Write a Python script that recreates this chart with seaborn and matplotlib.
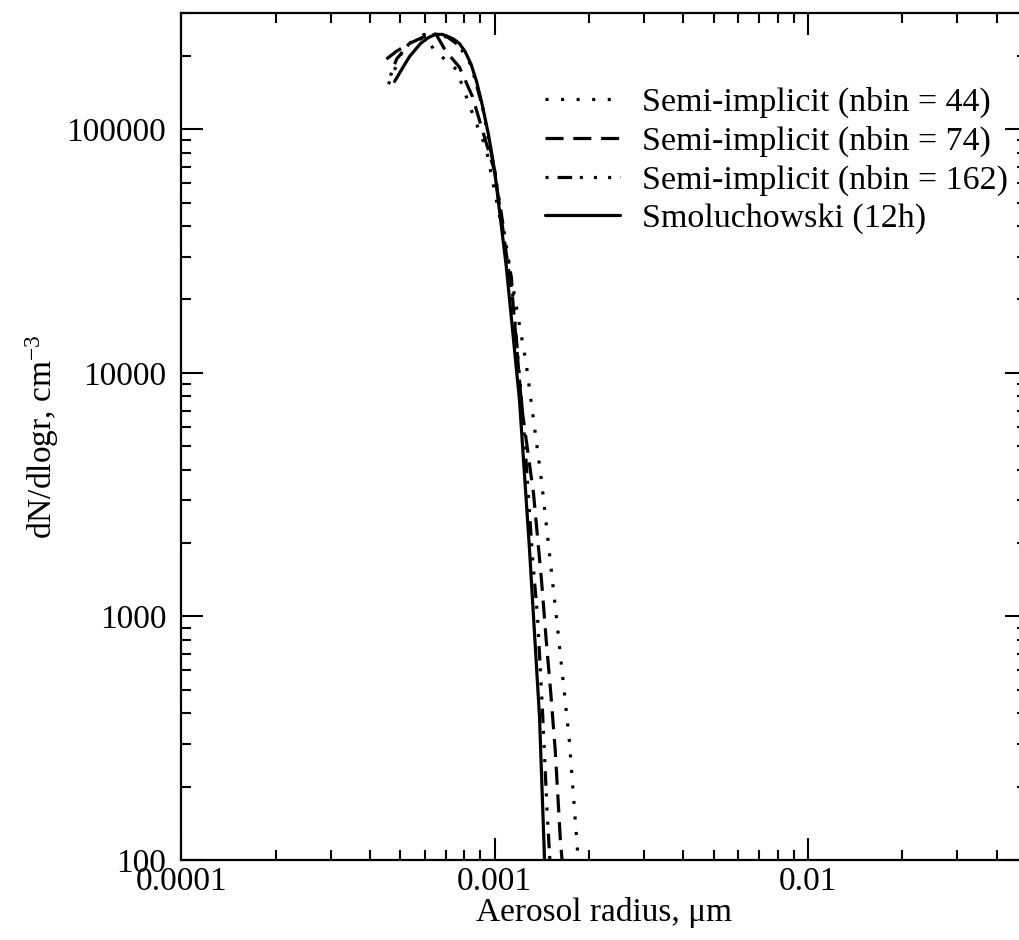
import numpy as np
import pandas as pd
import matplotlib
matplotlib.use("Agg")
import matplotlib.pyplot as plt
import seaborn as sns
from matplotlib.ticker import LogLocator, NullFormatter, FixedLocator, FixedFormatter

# ---- data (radius in micrometres, dN/dlogr in cm^-3) ----
x_nbin44 = [4.58e-4, 5.15e-4, 5.96e-4, 6.41e-4, 7.54e-4, 8.41e-4, 9.40e-4,
            1.11e-3, 1.26e-3, 1.41e-3, 1.58e-3, 1.73e-3, 1.84e-3, 1.88e-3]
y_nbin44 = [1.53e5, 2.19e5, 2.45e5, 2.11e5, 1.76e5, 1.20e5, 8.28e4,
            2.80e4, 1.09e4, 3.61e3, 945, 310, 107, 83]

x_nbin74 = [4.51e-4, 4.86e-4, 5.35e-4, 5.96e-4, 6.50e-4, 6.98e-4, 7.71e-4, 8.49e-4,
            1.00e-3, 1.14e-3, 1.22e-3, 1.33e-3, 1.41e-3, 1.46e-3, 1.51e-3, 1.56e-3,
            1.62e-3, 1.66e-3]
y_nbin74 = [1.94e5, 2.09e5, 2.25e5, 2.40e5, 2.45e5, 2.09e5, 1.80e5, 1.36e5,
            6.7e4, 2.03e4, 7.2e3, 3.19e3, 1.41e3, 798, 483, 282,
            121, 83]

x_nbin162 = [4.65e-4, 4.86e-4, 5.31e-4, 5.92e-4, 6.47e-4, 7.10e-4, 7.71e-4, 8.40e-4,
             9.12e-4, 1.00e-3, 1.13e-3, 1.24e-3, 1.32e-3, 1.37e-3, 1.42e-3, 1.47e-3,
             1.50e-3, 1.51e-3]
y_nbin162 = [1.66e5, 1.94e5, 2.23e5, 2.38e5, 2.46e5, 2.38e5, 2.20e5, 1.83e5,
             1.25e5, 6.7e4, 2.45e4, 5.78e3, 1.75e3, 991, 412, 156,
             100, 83]

x_smol = [4.79e-4, 5.10e-4, 5.35e-4, 5.80e-4, 6.15e-4, 6.47e-4, 6.80e-4, 7.10e-4,
          7.40e-4, 7.71e-4, 8.05e-4, 8.40e-4, 8.75e-4, 9.12e-4, 9.55e-4, 1.00e-3,
          1.09e-3, 1.20e-3, 1.29e-3, 1.39e-3, 1.44e-3, 1.46e-3]
y_smol = [1.57e5, 1.80e5, 1.99e5, 2.25e5, 2.38e5, 2.45e5, 2.45e5, 2.40e5,
          2.34e5, 2.25e5, 2.08e5, 1.85e5, 1.57e5, 1.26e5, 9.5e4, 6.7e4,
          2.69e4, 7.67e3, 1.92e3, 385, 105, 70]

labels = ["Semi-implicit (nbin = 44)", "Semi-implicit (nbin = 74)",
          "Semi-implicit (nbin = 162)", "Smoluchowski (12h)"]

x_ticks = [0.0001, 0.001, 0.01]
x_ticklabels = ["0.0001", "0.001", "0.01"]
y_ticks = [100, 1000, 10000, 100000]
y_ticklabels = ["100", "1000", "10000", "100000"]

# ---- style ----
sns.set_style("ticks")
plt.rcParams["font.family"] = ["Liberation Serif", "DejaVu Serif"]
plt.rcParams["mathtext.fontset"] = "custom"
plt.rcParams["mathtext.rm"] = "Liberation Serif"
plt.rcParams["mathtext.it"] = "Liberation Serif:italic"
plt.rcParams["lines.scale_dashes"] = False
plt.rcParams["axes.edgecolor"] = "black"
plt.rcParams["axes.labelcolor"] = "black"
plt.rcParams["text.color"] = "black"
plt.rcParams["xtick.color"] = "black"
plt.rcParams["ytick.color"] = "black"

FS = 24

fig = plt.figure(figsize=(10.19, 9.40), dpi=100)
ax = fig.add_axes([0.1781, 0.0851, 0.8297, 0.9011])

styles = [
    (0, (2.2, 9.0)),
    (0, (13.0, 7.0)),
    (0, (2.2, 6.5, 10.5, 5.5, 2.2, 8.0, 2.2, 8.0)),
    "solid",
]
series = [(x_nbin44, y_nbin44), (x_nbin74, y_nbin74),
          (x_nbin162, y_nbin162), (x_smol, y_smol)]

for (xs, ys), lab, ls in zip(series, labels, styles):
    df = pd.DataFrame({"r": xs, "n": ys})
    sns.lineplot(data=df, x="r", y="n", ax=ax, color="black", linewidth=2.3,
                 linestyle=ls, sort=False, estimator=None, label=lab)

ax.set_xscale("log")
ax.set_yscale("log")
ax.set_xlim(1e-4, 0.05)
ax.set_ylim(100, 3e5)

ax.xaxis.set_major_locator(FixedLocator(x_ticks))
ax.xaxis.set_major_formatter(FixedFormatter(x_ticklabels))
ax.yaxis.set_major_locator(FixedLocator(y_ticks))
ax.yaxis.set_major_formatter(FixedFormatter(y_ticklabels))
ax.xaxis.set_minor_locator(LogLocator(base=10, subs=np.arange(2, 10)))
ax.yaxis.set_minor_locator(LogLocator(base=10, subs=np.arange(2, 10)))
ax.xaxis.set_minor_formatter(NullFormatter())
ax.yaxis.set_minor_formatter(NullFormatter())

for s in ax.spines.values():
    s.set_linewidth(1.6)
    s.set_visible(True)
    s.set_color("black")
ax.tick_params(which="both", direction="in", top=True, right=True, width=1.5,
               labelsize=FS, colors="black")
ax.tick_params(which="major", length=16)
ax.tick_params(which="minor", length=7)
ax.tick_params(axis="x", which="major", pad=5)
ax.tick_params(axis="y", which="major", pad=11)

ax.set_xlabel("Aerosol radius, \u03bcm", fontsize=FS, labelpad=0)
ax.set_ylabel("dN/dlogr, cm$^{-3}$", fontsize=FS, labelpad=4)

ax.legend(loc="upper left", bbox_to_anchor=(545 / 1019, 1 - 87 / 940),
          bbox_transform=fig.transFigure, frameon=False, fontsize=24.5,
          handlelength=2.2, handletextpad=0.65, labelspacing=0.22,
          borderpad=0, borderaxespad=0)

fig.savefig("out.png", dpi=100)
